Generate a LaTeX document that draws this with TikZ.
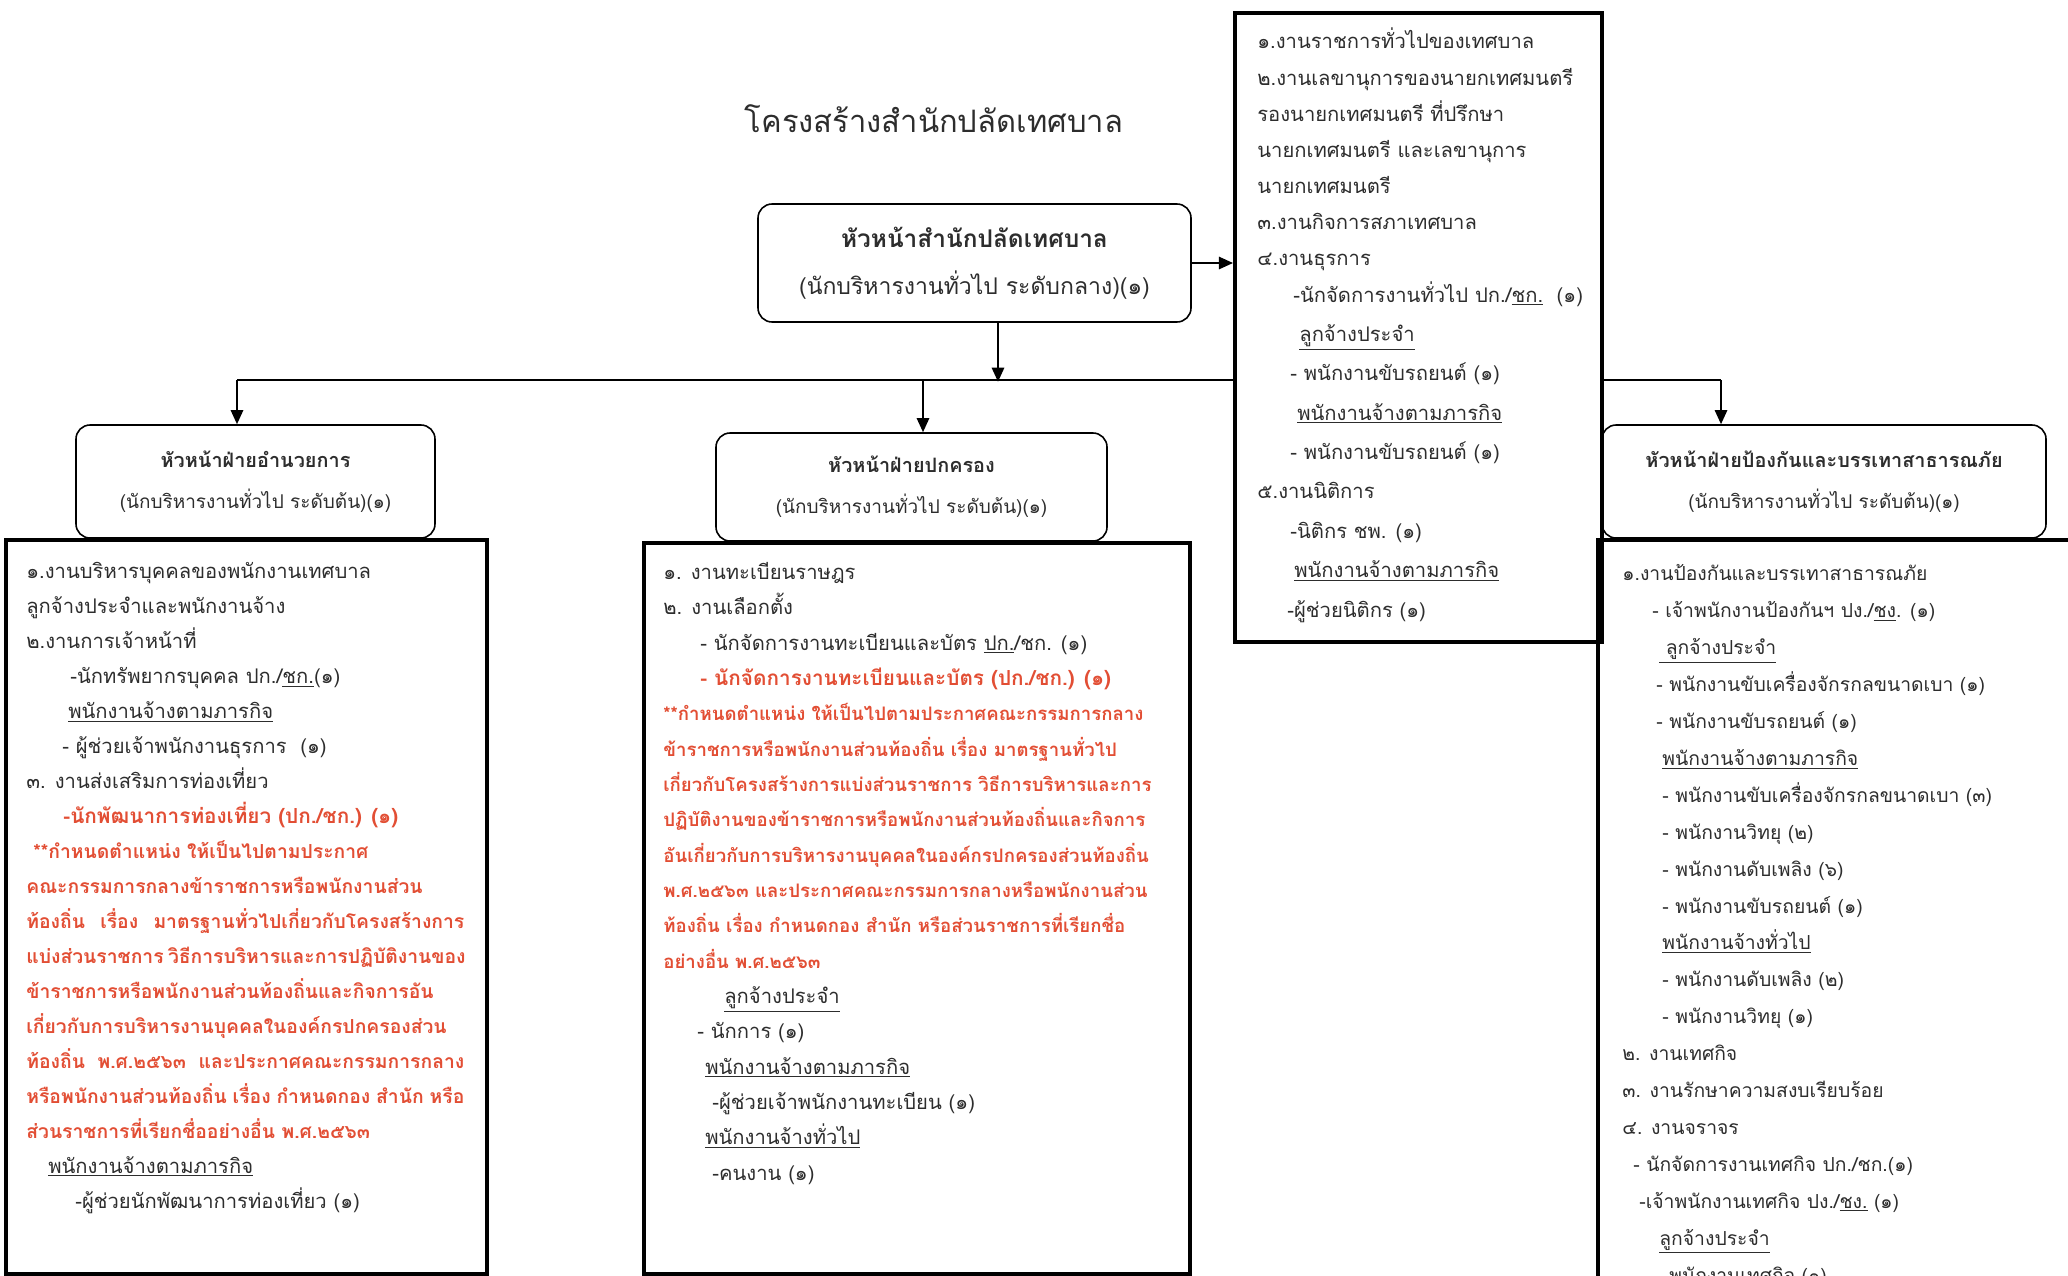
\documentclass[tikz,border=0pt]{standalone}
\usepackage{fontspec}
\setmainfont[Script=Thai]{Loma}
\usetikzlibrary{positioning,arrows.meta}

\newlength{\upx}\setlength{\upx}{0.02cm}
\definecolor{ink}{RGB}{45,45,45}
\definecolor{redtxt}{RGB}{226,78,52}
\newcommand{\ind}[1]{\hspace*{#1\upx}}
\newcommand{\redline}[1]{{\color{redtxt}\bfseries #1}}
\newcommand{\jline}[2]{\makebox[#1\upx][s]{#2}}

\tikzset{
  headbox/.style={draw, rounded corners=8pt, line width=0.9pt, align=center, inner sep=0pt, text=ink},
  framebox/.style={draw, line width=2.2pt, anchor=north west, inner sep=0pt},
  listtext/.style n args={2}{anchor=base west, align=left, inner sep=0pt, text=ink,
    font={\fontsize{#1}{#2}\selectfont\lineskiplimit=-50pt}},
  conn/.style={line width=1.1pt},
  arr/.style={line width=1.1pt, -{Triangle[length=8pt,width=7pt]}},
}

\begin{document}
\begin{tikzpicture}[x=1\upx,y=-1\upx]
    \useasboundingbox (0,0) rectangle (2068,1275);
    %%%%% TITLE AND CHIEF
    \node[text=ink, font=\fontsize{17.6}{22}\selectfont] (title) at (934,119) {โครงสร้างสำนักปลัดเทศบาล};
    \node[headbox, minimum width=433\upx, minimum height=118\upx,
          font={\fontsize{13.1}{26.7pt}\selectfont\lineskiplimit=-50pt}] (chief) at (974.5,263)
      {{\fontsize{13.9}{26.7}\selectfont\bfseries หัวหน้าสำนักปลัดเทศบาล}\\
       (นักบริหารงานทั่วไป ระดับกลาง)(๑)};
    %%%%% THE OFFICE BOX
    \node[framebox, minimum width=367\upx, minimum height=629\upx] (office) at (1233,11) {};
    \node[listtext={11.5}{20.6pt}] (officetext) at (1257,617) {
      ๑.งานราชการทั่วไปของเทศบาล\\
      ๒.งานเลขานุการของนายกเทศมนตรี\\
      รองนายกเทศมนตรี ที่ปรึกษา\\
      นายกเทศมนตรี และเลขานุการ\\
      นายกเทศมนตรี\\
      ๓.งานกิจการสภาเทศบาล\\
      ๔.งานธุรการ\\
      \ind{36}-นักจัดการงานทั่วไป ปก./\underline{ชก.}\ \ (๑)\\[1.8pt]
      \ind{42}\underline{ลูกจ้างประจำ}\\[1.8pt]
      \ind{33}- พนักงานขับรถยนต์ (๑)\\[1.8pt]
      \ind{40}\underline{พนักงานจ้างตามภารกิจ}\\[1.8pt]
      \ind{33}- พนักงานขับรถยนต์ (๑)\\[1.8pt]
      ๕.งานนิติการ\\[1.8pt]
      \ind{33}-นิติกร ชพ. (๑)\\[1.8pt]
      \ind{37}\underline{พนักงานจ้างตามภารกิจ}\\[1.8pt]
      \ind{30}-ผู้ช่วยนิติกร (๑)};
    %%%%% THE THREE SECTIONS
    \node[framebox, minimum width=481\upx, minimum height=734\upx] (adminbox) at (4,538) {};
    \node[framebox, minimum width=546\upx, minimum height=731\upx] (govbox) at (642,541) {};
    \node[framebox, minimum width=500\upx, minimum height=760\upx] (disbox) at (1596,538) {};
    \tikzset{every node/.append style={font={\fontsize{10.8}{23.3pt}\selectfont\lineskiplimit=-50pt}}}
    \node[headbox, minimum width=359\upx, minimum height=113\upx] (adminhead) at (255.5,481.5)
      {{\fontsize{11.3}{23.3}\selectfont\bfseries หัวหน้าฝ่ายอำนวยการ}\\
       (นักบริหารงานทั่วไป ระดับต้น)(๑)};
    \node[headbox, minimum width=391\upx, minimum height=108\upx] (govhead) at (911.5,487)
      {{\fontsize{11.3}{23.3}\selectfont\bfseries หัวหน้าฝ่ายปกครอง}\\
       (นักบริหารงานทั่วไป ระดับต้น)(๑)};
    \node[headbox, minimum width=444\upx, minimum height=113\upx] (dishead) at (1824,481.5)
      {{\fontsize{11.3}{23.3}\selectfont\bfseries หัวหน้าฝ่ายป้องกันและบรรเทาสาธารณภัย}\\
       (นักบริหารงานทั่วไป ระดับต้น)(๑)};
    % section texts
    \node[listtext={11.5}{19.9pt}] (admintext) at (26,1208) {
      ๑.งานบริหารบุคคลของพนักงานเทศบาล\\
      ลูกจ้างประจำและพนักงานจ้าง\\
      ๒.งานการเจ้าหน้าที่\\
      \ind{44}-นักทรัพยากรบุคคล ปก./\underline{ชก.}(๑)\\
      \ind{42}\underline{พนักงานจ้างตามภารกิจ}\\
      \ind{36}- ผู้ช่วยเจ้าพนักงานธุรการ\ \ (๑)\\
      ๓. งานส่งเสริมการท่องเที่ยว\\
      {\fontsize{11.8}{19.9pt}\selectfont\ind{37}\redline{-นักพัฒนาการท่องเที่ยว (ปก./ชก.) (๑)}}\\
      {\fontsize{11}{19.9pt}\selectfont\ind{7}\redline{**กำหนดตำแหน่ง ให้เป็นไปตามประกาศ}}\\
      {\fontsize{11}{19.9pt}\selectfont\redline{คณะกรรมการกลางข้าราชการหรือพนักงานส่วน}}\\
      {\fontsize{11}{19.9pt}\selectfont\redline{\jline{438}{ท้องถิ่น เรื่อง มาตรฐานทั่วไปเกี่ยวกับโครงสร้างการ}}}\\
      {\fontsize{11}{19.9pt}\selectfont\redline{\jline{438}{แบ่งส่วนราชการ วิธีการบริหารและการปฏิบัติงานของ}}}\\
      {\fontsize{11}{19.9pt}\selectfont\redline{ข้าราชการหรือพนักงานส่วนท้องถิ่นและกิจการอัน}}\\
      {\fontsize{11}{19.9pt}\selectfont\redline{เกี่ยวกับการบริหารงานบุคคลในองค์กรปกครองส่วน}}\\
      {\fontsize{11}{19.9pt}\selectfont\redline{\jline{438}{ท้องถิ่น พ.ศ.๒๕๖๓ และประกาศคณะกรรมการกลาง}}}\\
      {\fontsize{11}{19.9pt}\selectfont\redline{\jline{438}{หรือพนักงานส่วนท้องถิ่น เรื่อง กำหนดกอง สำนัก หรือ}}}\\
      {\fontsize{11}{19.9pt}\selectfont\redline{ส่วนราชการที่เรียกชื่ออย่างอื่น พ.ศ.๒๕๖๓}}\\
      \ind{22}\underline{พนักงานจ้างตามภารกิจ}\\
      \ind{49}-ผู้ช่วยนักพัฒนาการท่องเที่ยว (๑)};
    \node[listtext={11.5}{20.1pt}] (govtext) at (663,1180) {
      ๑. งานทะเบียนราษฎร\\
      ๒. งานเลือกตั้ง\\
      \ind{37}- นักจัดการงานทะเบียนและบัตร \underline{ปก.}/ชก. (๑)\\
      {\fontsize{11.8}{20.1pt}\selectfont\ind{37}\redline{- นักจัดการงานทะเบียนและบัตร (ปก./ชก.) (๑)}}\\
      {\fontsize{10.6}{20.1pt}\selectfont\redline{**กำหนดตำแหน่ง ให้เป็นไปตามประกาศคณะกรรมการกลาง}}\\
      {\fontsize{10.6}{20.1pt}\selectfont\redline{ข้าราชการหรือพนักงานส่วนท้องถิ่น เรื่อง มาตรฐานทั่วไป}}\\
      {\fontsize{10.6}{20.1pt}\selectfont\redline{เกี่ยวกับโครงสร้างการแบ่งส่วนราชการ วิธีการบริหารและการ}}\\
      {\fontsize{10.6}{20.1pt}\selectfont\redline{ปฏิบัติงานของข้าราชการหรือพนักงานส่วนท้องถิ่นและกิจการ}}\\
      {\fontsize{10.6}{20.1pt}\selectfont\redline{อันเกี่ยวกับการบริหารงานบุคคลในองค์กรปกครองส่วนท้องถิ่น}}\\
      {\fontsize{10.6}{20.1pt}\selectfont\redline{พ.ศ.๒๕๖๓ และประกาศคณะกรรมการกลางหรือพนักงานส่วน}}\\
      {\fontsize{10.6}{20.1pt}\selectfont\redline{ท้องถิ่น เรื่อง กำหนดกอง สำนัก หรือส่วนราชการที่เรียกชื่อ}}\\
      {\fontsize{10.6}{20.1pt}\selectfont\redline{อย่างอื่น พ.ศ.๒๕๖๓}}\\
      \ind{61}\underline{ลูกจ้างประจำ}\\
      \ind{34}- นักการ (๑)\\
      \ind{42}\underline{พนักงานจ้างตามภารกิจ}\\
      \ind{49}-ผู้ช่วยเจ้าพนักงานทะเบียน (๑)\\
      \ind{42}\underline{พนักงานจ้างทั่วไป}\\
      \ind{49}-คนงาน (๑)};
    \node[listtext={11}{21pt}] (distext) at (1622,1282) {
      ๑.งานป้องกันและบรรเทาสาธารณภัย\\
      \ind{30}- เจ้าพนักงานป้องกันฯ ปง./\underline{ชง}. (๑)\\
      \ind{37}\underline{\ ลูกจ้างประจำ}\\
      \ind{34}- พนักงานขับเครื่องจักรกลขนาดเบา (๑)\\
      \ind{34}- พนักงานขับรถยนต์ (๑)\\
      \ind{40}\underline{พนักงานจ้างตามภารกิจ}\\
      \ind{40}- พนักงานขับเครื่องจักรกลขนาดเบา (๓)\\
      \ind{40}- พนักงานวิทยุ (๒)\\
      \ind{40}- พนักงานดับเพลิง (๖)\\
      \ind{40}- พนักงานขับรถยนต์ (๑)\\
      \ind{40}\underline{พนักงานจ้างทั่วไป}\\
      \ind{40}- พนักงานดับเพลิง (๒)\\
      \ind{40}- พนักงานวิทยุ (๑)\\
      ๒. งานเทศกิจ\\
      ๓. งานรักษาความสงบเรียบร้อย\\
      ๔. งานจราจร\\
      \ind{11}- นักจัดการงานเทศกิจ ปก./ชก.(๑)\\
      \ind{17}-เจ้าพนักงานเทศกิจ ปง./\underline{ชง.} (๑)\\
      \ind{37}\underline{ลูกจ้างประจำ}\\
      \ind{34}- พนักงานเทศกิจ (๑)};
    %%%% LINKS
    \coordinate (split) at (998,380);
    \coordinate (adminturn) at (237,380);
    \coordinate (govturn) at (923,380);
    \coordinate (disturn) at (1721,380);
    \draw[arr] (chief.east) -- (chief.east -| office.west);
    \draw[arr] (chief.south -| split) -- ([yshift=-1pt]split);
    \draw[conn] (split -| office.west) -- (adminturn);
    \draw[conn] (office.east |- disturn) -- (disturn);
    \draw[arr] (adminturn) -- (adminturn |- adminhead.north);
    \draw[arr] (govturn) -- (govturn |- govhead.north);
    \draw[arr] (disturn) -- (disturn |- dishead.north);
\end{tikzpicture}
\end{document}
